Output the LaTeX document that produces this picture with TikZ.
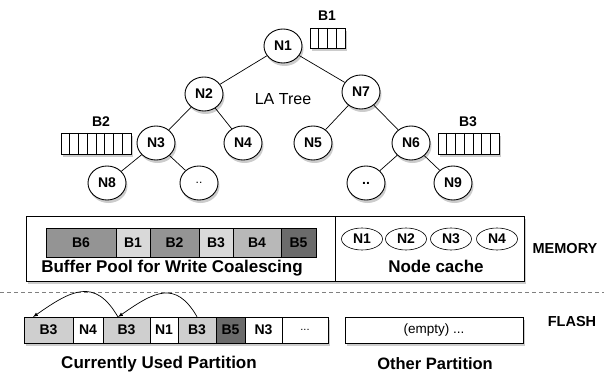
\documentclass[tikz,border=0pt]{standalone}
\usepackage{fontspec}
\setmainfont{Liberation Sans}
\usetikzlibrary{arrows,shadows,shapes.geometric}

\definecolor{lightcell}{gray}{0.85}
\definecolor{midcell}{gray}{0.58}
\definecolor{softcell}{gray}{0.72}
\definecolor{darkcell}{gray}{0.42}
\definecolor{flashcell}{gray}{0.81}

\begin{document}
\begin{tikzpicture}[x=1pt,y=1pt,font=\fontsize{14}{16}\selectfont\bfseries,
	treenode/.style={ellipse,draw=black,fill=white,line width=0.9pt,minimum width=38pt,minimum height=34pt,inner sep=0pt,
		drop shadow={shadow xshift=1.5pt,shadow yshift=-3pt,opacity=0.4}},
	cachenode/.style={ellipse,draw=black,fill=white,line width=0.6pt,minimum width=41pt,minimum height=22pt,inner sep=0pt},
	cell/.style={draw=black,line width=0.6pt,inner sep=0pt},
	bigbox/.style={draw=black,fill=white,line width=0.8pt,inner sep=0pt,
		drop shadow={shadow xshift=1.5pt,shadow yshift=-3pt,opacity=0.4}},
	caption/.style={font=\fontsize{17}{19}\selectfont\bfseries},
	side/.style={font=\fontsize{14.5}{17}\selectfont\bfseries},
	jump/.style={-latex,line width=0.7pt}]
	\useasboundingbox (0,0) rectangle (604,-374);
	% tree
	\node[treenode] (n1) at (283,-46) {N1};
	\node[treenode] (n2) at (204,-94) {N2};
	\node[treenode] (n7) at (361,-92) {N7};
	\node[treenode] (n3) at (156,-143) {N3};
	\node[treenode] (n4) at (243,-143) {N4};
	\node[treenode] (n5) at (313,-143) {N5};
	\node[treenode] (n6) at (411,-143) {N6};
	\node[treenode] (n8) at (107,-183) {N8};
	\node[treenode,font=\fontsize{12}{14}\selectfont] (d1) at (199,-183) {..};
	\node[treenode] (d2) at (366,-183) {..};
	\node[treenode] (n9) at (453,-183) {N9};
	\node[font=\fontsize{16}{18}\selectfont] (latree) at (283,-99) {LA Tree};
	\draw[line width=0.7pt] (n1) -- (n2);
	\draw[line width=0.7pt] (n1) -- (n7);
	\draw[line width=0.7pt] (n2) -- (n3);
	\draw[line width=0.7pt] (n2) -- (n4);
	\draw[line width=0.7pt] (n7) -- (n5);
	\draw[line width=0.7pt] (n7) -- (n6);
	\draw[line width=0.7pt] (n3) -- (n8);
	\draw[line width=0.7pt] (n3) -- (d1);
	\draw[line width=0.7pt] (n6) -- (d2);
	\draw[line width=0.7pt] (n6) -- (n9);
	% node buffers
	\node (b1) at (327,-16) {B1};
	\filldraw[fill=white,line width=0.6pt,drop shadow={shadow xshift=1.5pt,shadow yshift=-3pt,opacity=0.4}] (310,-28) rectangle (345,-48);
	\foreach \i in {1,...,3} \draw[line width=0.6pt] (310+\i*8.75,-28) -- ++(0,-20);
	\node (b2) at (101,-122) {B2};
	\filldraw[fill=white,line width=0.6pt,drop shadow={shadow xshift=1.5pt,shadow yshift=-3pt,opacity=0.4}] (61,-133) rectangle (131,-154);
	\foreach \i in {1,...,7} \draw[line width=0.6pt] (61+\i*8.75,-133) -- ++(0,-21);
	\node (b3) at (468,-122) {B3};
	\filldraw[fill=white,line width=0.6pt,drop shadow={shadow xshift=1.5pt,shadow yshift=-3pt,opacity=0.4}] (438,-133) rectangle (499,-154);
	\foreach \i in {1,...,6} \draw[line width=0.6pt] (438+\i*8.714,-133) -- ++(0,-21);
	% memory
	\node[bigbox,minimum width=498pt,minimum height=65pt] (memory) at (275,-248.5) {};
	\draw[line width=0.8pt] (335,-216) -- (335,-281);
	\foreach \l/\r/\t/\c/\n in {46/116/B6/midcell/p1,116/150/B1/lightcell/p2,150/199/B2/midcell/p3,
		199/233/B3/lightcell/p4,233/281/B4/softcell/p5,281/316/B5/darkcell/p6}
		\node[cell,fill=\c,minimum width={(\r-\l)*1pt},minimum height=29pt] (\n) at ({(\l+\r)/2},-242.5) {\t};
	\node[caption] (pooltext) at (172,-268) {Buffer Pool for Write Coalescing};
	\foreach \x/\t [count=\k] in {362/N1,406/N2,451/N3,497/N4}
		\node[cachenode] (c\k) at (\x,-239) {\t};
	\node[caption] (cachetext) at (436,-266) {Node cache};
	\node[side] (memlabel) at (565,-249) {MEMORY};
	% flash
	\draw[gray,dashed,dash pattern=on 4pt off 3pt,line width=0.8pt] (0,-292) -- (604,-292);
	\node[bigbox,minimum width=304pt,minimum height=26pt] (used) at (176,-330) {};
	\foreach \l/\r/\t/\c/\n in {24/73/B3/flashcell/f1,73/103/N4/white/f2,103/150/B3/flashcell/f3,
		150/178/N1/white/f4,178/216/B3/flashcell/f5,216/245/B5/darkcell/f6,245/282/N3/white/f7}
		\node[cell,fill=\c,minimum width={(\r-\l)*1pt},minimum height=26pt] (\n) at ({(\l+\r)/2},-330) {\t};
	\node[font=\fontsize{11}{13}\selectfont] (f8) at (305,-330) {...};
	\coordinate (hop) at (118,-317);
	\coordinate (land) at (33,-317);
	\draw[jump] (f5.north) to[out=120,in=35,looseness=1.4] (hop);
	\draw[jump] (hop) to[out=120,in=35,looseness=1.4] (land);
	\node[bigbox,minimum width=178pt,minimum height=26pt,font=\fontsize{13.5}{16}\selectfont] (other) at (434,-330) {(empty) ...};
	\node[side] (flashlabel) at (572,-322) {FLASH};
	\node[caption] (usedtext) at (159,-364) {Currently Used Partition};
	\node[caption,font=\fontsize{16.5}{18}\selectfont\bfseries] (othertext) at (435,-364) {Other Partition};
\end{tikzpicture}
\end{document}
